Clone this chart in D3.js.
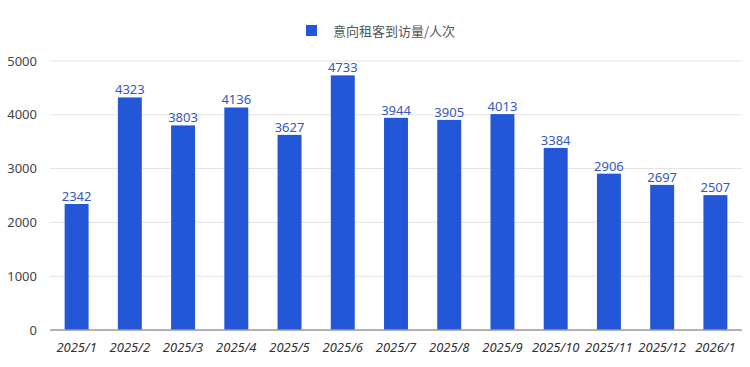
<!DOCTYPE html>
<html><head><meta charset="utf-8">
<script src="https://cdn.jsdelivr.net/npm/d3@7"></script>
<style>body{margin:0;background:#fff;}svg{display:block;font-family:"Noto Sans","Noto Sans CJK SC",sans-serif;}</style>
</head><body>
<svg id="c" width="750" height="367"></svg>
<script>
const categories = ["2025/1","2025/2","2025/3","2025/4","2025/5","2025/6","2025/7","2025/8","2025/9","2025/10","2025/11","2025/12","2026/1"];
const values = [2342,4323,3803,4136,3627,4733,3944,3905,4013,3384,2906,2697,2507];
const yTicks = [0,1000,2000,3000,4000,5000];
const seriesName = "意向租客到访量/人次";

const svg = d3.select("#c");
const m = {l:50, r:8, t:61, b:37};
const W = 750, H = 367;
const x = d3.scaleBand().domain(categories).range([m.l, W-m.r]).paddingInner(0.55).paddingOuter(0.275);
const y = d3.scaleLinear().domain([0,5000]).range([H-m.b, m.t]);

// grid
svg.append("g").selectAll("line").data(yTicks.filter(d=>d>0)).join("line")
  .attr("x1", m.l).attr("x2", W-m.r).attr("y1", d=>y(d)).attr("y2", d=>y(d))
  .attr("stroke", "#e3e3e3").attr("stroke-width", 1);

// y labels
svg.append("g").selectAll("text").data(yTicks).join("text")
  .attr("x", 37).attr("y", d=>y(d)).attr("dy","0.35em").attr("text-anchor","end")
  .attr("font-size", 13).attr("fill","#444").text(d=>d);

// bars
svg.append("g").selectAll("rect").data(values).join("rect")
  .attr("x", (d,i)=>x(categories[i])).attr("width", x.bandwidth())
  .attr("y", d=>y(d)).attr("height", d=>y(0)-y(d)).attr("fill","#2357d8");

// value labels
svg.append("g").selectAll("text").data(values).join("text")
  .attr("x", (d,i)=>x(categories[i])+x.bandwidth()/2).attr("y", d=>y(d)-3)
  .attr("text-anchor","middle").attr("font-size", 13).attr("fill","#3558c0").text(d=>d);

// baseline
svg.append("line").attr("x1", m.l).attr("x2", W-m.r).attr("y1", y(0)).attr("y2", y(0))
  .attr("stroke","#9a9a9a").attr("stroke-width",1.5);

// x labels
svg.append("g").selectAll("text").data(categories).join("text")
  .attr("x", d=>x(d)+x.bandwidth()/2).attr("y", 352).attr("text-anchor","middle")
  .attr("font-size", 13).attr("font-style","italic").attr("fill","#333").text(d=>d);

// legend
svg.append("rect").attr("x", 306).attr("y", 25).attr("width", 11).attr("height", 11).attr("fill","#2357d8");
svg.append("text").attr("x", 333).attr("y", 31).attr("dy","0.35em").attr("font-size", 13).attr("fill","#555")
  .style("font-family", "'Noto Sans CJK SC', sans-serif").text(seriesName);
</script>
</body></html>
